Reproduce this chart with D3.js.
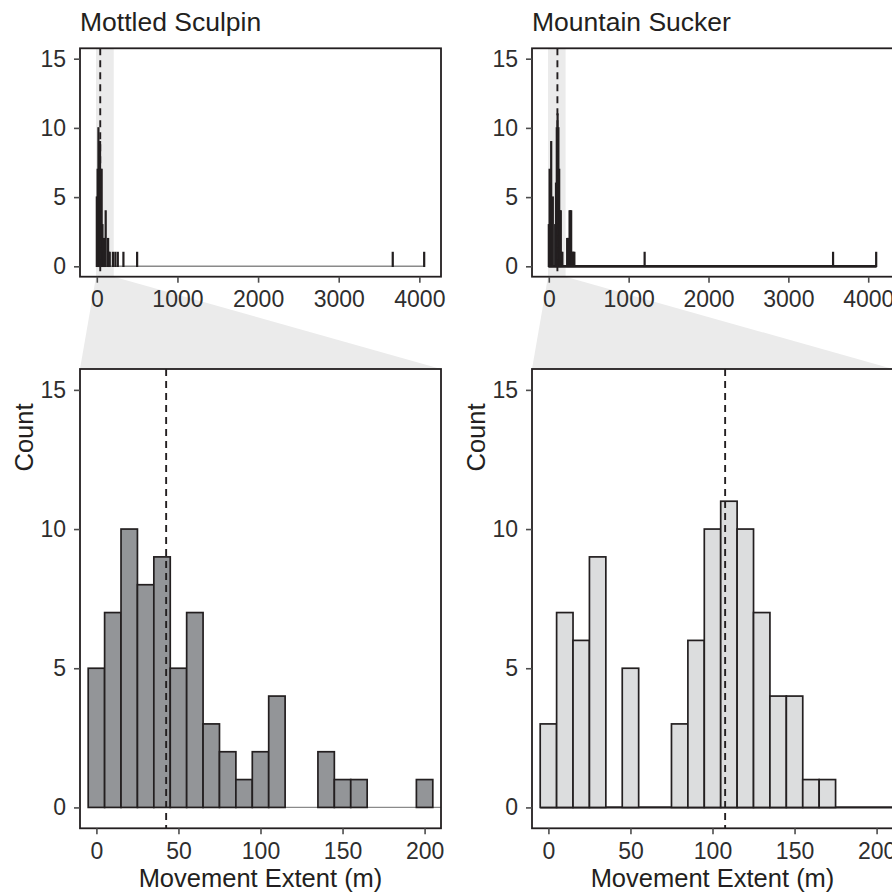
<!DOCTYPE html>
<html>
<head>
<meta charset="utf-8">
<script src="https://cdn.jsdelivr.net/npm/d3@7"></script>
<style>
  body { margin: 0; background: #fff; }
  svg { display: block; font-family: "Liberation Sans", Arial, Helvetica, sans-serif; }
</style>
</head>
<body>
<div id="chart"></div>
<script>
// ---- data (bin width 10 m, bins centred on these values) ----
const nearBins = [0, 10, 20, 30, 40, 50, 60, 70, 80, 90, 100, 110, 120, 130, 140, 150, 160, 170, 180, 190, 200];
const sculpinCounts = [5, 7, 10, 8, 9, 5, 7, 3, 2, 1, 2, 4, 0, 0, 2, 1, 1, 0, 0, 0, 1];
const suckerCounts  = [3, 7, 6, 9, 0, 5, 0, 0, 3, 6, 10, 11, 10, 7, 4, 4, 1, 1, 0, 0, 0];

// long-distance movers (only visible in the full-range panels)
const sculpinFarBins   = [230, 260, 330, 500, 3670, 4060];
const sculpinFarCounts = [1, 1, 1, 1, 1, 1];
const suckerFarBins    = [230, 240, 250, 260, 270, 280, 290, 300, 310, 320, 1200, 3560, 4100];
const suckerFarCounts  = [2, 2, 2, 4, 4, 4, 1, 1, 1, 1, 1, 1, 1];

const sculpinMean = 42.5;
const suckerMean = 107.7;

const species = ["Mottled Sculpin", "Mountain Sucker"];
const countTicks = [0, 5, 10, 15];
const fullTicks = [0, 1000, 2000, 3000, 4000];
const zoomTicks = [0, 50, 100, 150, 200];
const zoomRange = [-10, 210];

// ---- layout ----
const W = 892, H = 893;
const binWidth = 10;
const panelW = 361;
const topBox = {y0: 48.3, y1: 276.7};
const botBox = {y0: 369, y1: 828.3};
const ink = "#231f20";
const axisGrey = "#4d4d4d";
const shade = "#ebebeb";

const panels = [
  {name: species[0], x0: 80, counts: sculpinCounts, farBins: sculpinFarBins, farCounts: sculpinFarCounts,
   mean: sculpinMean, fill: "#939598", zeroStroke: "#8a8a8a", zeroWidth: 1.3},
  {name: species[1], x0: 532, counts: suckerCounts, farBins: suckerFarBins, farCounts: suckerFarCounts,
   mean: suckerMean, fill: "#dcddde", zeroStroke: ink, zeroWidth: 2.4}
];

const svg = d3.select("#chart").append("svg")
  .attr("width", W).attr("height", H);

const defs = svg.append("defs");

panels.forEach((p, i) => {
  const bins = nearBins.map((b, k) => ({x: b, n: p.counts[k]}))
    .concat(p.farBins.map((b, k) => ({x: b, n: p.farCounts[k]})));
  const lo = d3.min(bins, d => d.x) - binWidth / 2;
  const hi = d3.max(bins, d => d.x) + binWidth / 2;
  const pad = (hi - lo) * 0.05;

  // scales
  const xFull = d3.scaleLinear().domain([lo - pad, hi + pad]).range([p.x0, p.x0 + panelW]);
  const yTop = d3.scaleLinear().domain([-0.75, 15.75]).range([topBox.y1, topBox.y0]);
  const xZoom = d3.scaleLinear().domain(zoomRange).range([p.x0, p.x0 + panelW]);
  const yBot = d3.scaleLinear().domain([-0.75, 15.75]).range([botBox.y1, botBox.y0]);

  // connector between the two panels
  svg.append("path")
    .attr("d", d3.line()([
      [xFull(zoomRange[0]), topBox.y1], [xFull(zoomRange[1]), topBox.y1],
      [p.x0 + panelW, botBox.y0], [p.x0, botBox.y0]
    ]))
    .attr("fill", shade);

  // ---------- top (full range) panel ----------
  const gt = svg.append("g");
  gt.append("rect")
    .attr("x", p.x0).attr("y", topBox.y0).attr("width", panelW).attr("height", topBox.y1 - topBox.y0)
    .attr("fill", "#fff");
  gt.append("rect")
    .attr("x", xFull(zoomRange[0])).attr("y", topBox.y0)
    .attr("width", xFull(zoomRange[1]) - xFull(zoomRange[0])).attr("height", topBox.y1 - topBox.y0)
    .attr("fill", shade);

  gt.append("line")
    .attr("x1", xFull(lo)).attr("x2", xFull(hi))
    .attr("y1", yTop(0)).attr("y2", yTop(0))
    .attr("stroke", p.zeroStroke).attr("stroke-width", p.zeroWidth + 0.3);

  gt.selectAll("rect.bar")
    .data(bins.filter(d => d.n > 0))
    .enter().append("rect")
    .attr("class", "bar")
    .attr("x", d => xFull(d.x - binWidth / 2))
    .attr("width", d => Math.max(xFull(d.x + binWidth / 2) - xFull(d.x - binWidth / 2), 0.8))
    .attr("y", d => yTop(d.n))
    .attr("height", d => yTop(0) - yTop(d.n))
    .attr("fill", ink)
    .attr("stroke", ink).attr("stroke-width", 1.4);

  gt.append("line")
    .attr("x1", xFull(p.mean)).attr("x2", xFull(p.mean))
    .attr("y1", topBox.y0).attr("y2", topBox.y1)
    .attr("stroke", ink).attr("stroke-width", 1.9).attr("stroke-dasharray", "7,5");

  gt.append("rect")
    .attr("x", p.x0).attr("y", topBox.y0).attr("width", panelW).attr("height", topBox.y1 - topBox.y0)
    .attr("fill", "none").attr("stroke", ink).attr("stroke-width", 1.8);

  // ---------- bottom (zoomed) panel ----------
  defs.append("clipPath").attr("id", "clip" + i)
    .append("rect")
    .attr("x", p.x0).attr("y", botBox.y0).attr("width", panelW).attr("height", botBox.y1 - botBox.y0);

  const gb = svg.append("g");
  gb.append("rect")
    .attr("x", p.x0).attr("y", botBox.y0).attr("width", panelW).attr("height", botBox.y1 - botBox.y0)
    .attr("fill", "#fff");

  const gc = gb.append("g").attr("clip-path", "url(#clip" + i + ")");
  gc.append("line")
    .attr("x1", xZoom(lo)).attr("x2", xZoom(hi))
    .attr("y1", yBot(0)).attr("y2", yBot(0))
    .attr("stroke", p.zeroStroke).attr("stroke-width", p.zeroWidth);

  gc.selectAll("rect.bar")
    .data(bins.filter(d => d.n > 0))
    .enter().append("rect")
    .attr("class", "bar")
    .attr("x", d => xZoom(d.x - binWidth / 2))
    .attr("width", d => xZoom(d.x + binWidth / 2) - xZoom(d.x - binWidth / 2))
    .attr("y", d => yBot(d.n))
    .attr("height", d => yBot(0) - yBot(d.n))
    .attr("fill", p.fill)
    .attr("stroke", ink).attr("stroke-width", 1.7);

  gc.append("line")
    .attr("x1", xZoom(p.mean)).attr("x2", xZoom(p.mean))
    .attr("y1", botBox.y0).attr("y2", botBox.y1)
    .attr("stroke", ink).attr("stroke-width", 1.9).attr("stroke-dasharray", "7,5");

  gb.append("rect")
    .attr("x", p.x0).attr("y", botBox.y0).attr("width", panelW).attr("height", botBox.y1 - botBox.y0)
    .attr("fill", "none").attr("stroke", ink).attr("stroke-width", 1.8);

  // ---------- axes ----------
  function styleAxis(g) {
    g.select(".domain").remove();
    g.selectAll(".tick line").attr("stroke", axisGrey).attr("stroke-width", 1.6);
    g.selectAll(".tick text").attr("fill", "#2e2e2e").style("font-size", "23px")
      .style("font-family", "'Liberation Sans', Arial, sans-serif");
  }
  const fmt = d3.format("d");

  svg.append("g").attr("transform", `translate(${p.x0},0)`)
    .call(d3.axisLeft(yTop).tickValues(countTicks).tickFormat(fmt).tickSize(6).tickPadding(8))
    .call(styleAxis);
  svg.append("g").attr("transform", `translate(0,${topBox.y1})`)
    .call(d3.axisBottom(xFull).tickValues(fullTicks).tickFormat(fmt).tickSize(6).tickPadding(8))
    .call(styleAxis);
  svg.append("g").attr("transform", `translate(${p.x0},0)`)
    .call(d3.axisLeft(yBot).tickValues(countTicks).tickFormat(fmt).tickSize(6).tickPadding(8))
    .call(styleAxis);
  svg.append("g").attr("transform", `translate(0,${botBox.y1})`)
    .call(d3.axisBottom(xZoom).tickValues(zoomTicks).tickFormat(fmt).tickSize(6).tickPadding(8))
    .call(styleAxis);

  // ---------- labels ----------
  svg.append("text")
    .attr("x", p.x0).attr("y", 31)
    .attr("fill", ink).style("font-size", "26.5px")
    .text(p.name);

  svg.append("text")
    .attr("x", p.x0 + panelW / 2).attr("y", 887)
    .attr("text-anchor", "middle")
    .attr("fill", ink).style("font-size", "25.5px")
    .text("Movement Extent (m)");

  svg.append("text")
    .attr("transform", `translate(${p.x0 - 47},437.5) rotate(-90)`)
    .attr("text-anchor", "middle")
    .attr("fill", ink).style("font-size", "25.5px")
    .text("Count");
});
</script>
</body>
</html>
